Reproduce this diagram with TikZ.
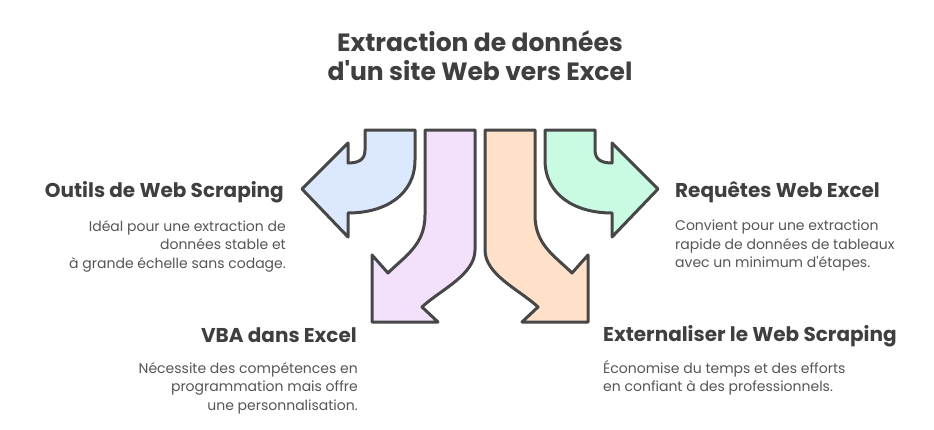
\documentclass[tikz,border=0pt]{standalone}
\usepackage{fontspec}
\setmainfont{Poppins}
\begin{document}
\begin{tikzpicture}[x=1pt,y=-1pt,
  arrowshape/.style={draw=strokegray,line width=3pt,line join=round,line cap=round},
  headleft/.style={anchor=base west,inner sep=0pt,text=headgray,font={\fontsize{20}{24}\selectfont\bfseries}},
  headright/.style={anchor=base east,inner sep=0pt,text=headgray,font={\fontsize{20}{24}\selectfont\bfseries}},
  descleft/.style={anchor=north west,inner sep=0pt,align=left,text=descgray,font={\fontsize{14}{18.5}\selectfont}},
  descright/.style={anchor=north east,inner sep=0pt,align=right,text=descgray,font={\fontsize{14}{18.5}\selectfont}},
  titlestyle/.style={anchor=north,inner sep=0pt,align=center,text=headgray,font={\fontsize{25}{29}\selectfont\bfseries}}
]
\definecolor{strokegray}{HTML}{474747}
\definecolor{headgray}{HTML}{3F3F3F}
\definecolor{descgray}{HTML}{555555}
\definecolor{fillblue}{HTML}{DBE8FD}
\definecolor{fillpurple}{HTML}{F3E1FC}
\definecolor{fillorange}{HTML}{FFE0C9}
\definecolor{fillgreen}{HTML}{C9FBE3}
\useasboundingbox (0,0) rectangle (934,429);

% title
\node[titlestyle] (title) at (480,30) {Extraction de données\\d\textquotesingle un site Web vers Excel};

% blue arrow (left)
\path[arrowshape,fill=fillblue] (365,130) -- (415,130) -- (415,160)
  .. controls (415,195) and (385,213) .. (348,213) -- (348,237) -- (302,189)
  -- (348,143) -- (348,163) .. controls (358,163) and (365,160) .. (365,150) -- cycle;
% green arrow (right)
\path[arrowshape,fill=fillgreen] (595,130) -- (545,130) -- (545,160)
  .. controls (545,195) and (575,213) .. (612,213) -- (612,237) -- (658,189)
  -- (612,143) -- (612,163) .. controls (602,163) and (595,160) .. (595,150) -- cycle;
% purple arrow (down-left)
\path[arrowshape,fill=fillpurple] (425,130) -- (475,130) -- (475,250)
  .. controls (475,275) and (440,290) .. (422,307) -- (438,322) -- (372,322)
  -- (372,255) -- (388,273) .. controls (405,256) and (425,245) .. (425,215) -- cycle;
% orange arrow (down-right)
\path[arrowshape,fill=fillorange] (535,130) -- (485,130) -- (485,250)
  .. controls (485,275) and (520,290) .. (538,307) -- (522,322) -- (588,322)
  -- (588,255) -- (572,273) .. controls (555,256) and (535,245) .. (535,215) -- cycle;

% labels
\node[headright] (h1) at (284,197) {Outils de Web Scraping};
\node[descright] (d1) at (286,220) {Idéal pour une extraction de\\données stable et\hspace{0.35em}\\à grande échelle sans codage.};

\node[headleft] (h2) at (675,197) {Requêtes Web Excel};
\node[descleft] (d2) at (675,220) {Convient pour une extraction\\rapide de données de tableaux\\avec un minimum d\textquotesingle étapes.};

\node[headright] (h3) at (357,342) {VBA dans Excel};
\node[descright] (d3) at (358,362) {Nécessite des compétences en\\programmation mais offre\hspace{0.35em}\\une personnalisation.};

\node[headleft] (h4) at (603,341) {Externaliser le Web Scraping};
\node[descleft] (d4) at (603,360) {Économise du temps et des efforts\\en confiant à des professionnels.};
\end{tikzpicture}
\end{document}
